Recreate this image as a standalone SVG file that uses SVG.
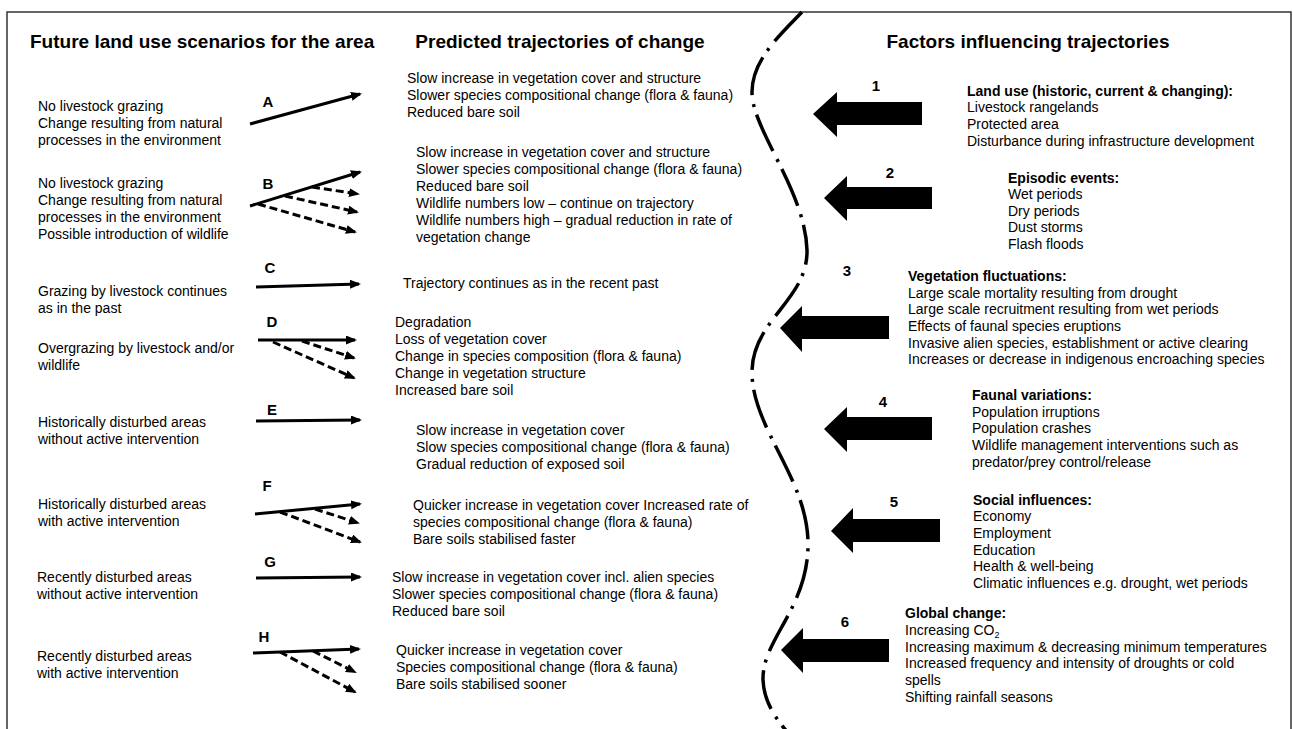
<svg xmlns="http://www.w3.org/2000/svg" width="1293" height="729" viewBox="0 0 1293 729">
<style>
text { font-family: "Liberation Sans", Arial, sans-serif; font-size: 14px; fill: #000; }
.b { font-weight: bold; }
.h { font-size: 19px; font-weight: bold; }
.lbl { font-size: 15px; font-weight: bold; text-anchor: middle; }
.sol { stroke: #000; stroke-width: 3; fill: none; marker-end: url(#ah); }
.dsh { stroke: #000; stroke-width: 3; fill: none; stroke-dasharray: 8 4; marker-end: url(#ah); }
.big { fill: #000; }
.curve { stroke: #000; stroke-width: 3.5; fill: none; stroke-dasharray: 40 9 3 8; }
.frame { stroke: #333; stroke-width: 1.5; fill: none; }
</style>
<defs>
<marker id="ah" markerUnits="userSpaceOnUse" markerWidth="12" markerHeight="10" refX="9" refY="4.5" orient="auto">
<path d="M0,0 L11,4.5 L0,9 Z" fill="#000"/>
</marker>
</defs>
<rect width="1293" height="729" fill="#fff"/>
<path class="frame" d="M7,735 V12 H1291 V735"/>

<g id="titles">
<text class="h" x="30" y="48">Future land use scenarios for the area</text>
<text class="h" x="560" y="48" text-anchor="middle">Predicted trajectories of change</text>
<text class="h" x="1028" y="48" text-anchor="middle">Factors influencing trajectories</text>
</g>

<g id="divider">
<path class="curve" d="M802,12 C780,35 752,60 752,92 C752,130 805,190 807,250 C808,300 752,320 752,372 C752,430 810,480 808,548 C806,610 762,640 763,680 C764,705 780,725 795,740"/>
</g>

<g id="connectors">
<line class="sol" x1="250" y1="124" x2="360" y2="94"/>
<line class="sol" x1="250" y1="206" x2="360" y2="172"/>
<line class="dsh" x1="312" y1="187" x2="358" y2="194"/>
<line class="dsh" x1="285" y1="196" x2="357" y2="212"/>
<line class="dsh" x1="258" y1="204" x2="355" y2="232"/>
<line class="sol" x1="256" y1="287" x2="359" y2="284"/>
<line class="sol" x1="258" y1="340" x2="355" y2="340"/>
<line class="dsh" x1="302" y1="341" x2="354" y2="358"/>
<line class="dsh" x1="273" y1="342" x2="354" y2="378"/>
<line class="sol" x1="256" y1="421" x2="360" y2="420"/>
<line class="sol" x1="255" y1="514" x2="360" y2="504"/>
<line class="dsh" x1="315" y1="509" x2="358" y2="523"/>
<line class="dsh" x1="280" y1="512" x2="360" y2="542"/>
<line class="sol" x1="256" y1="578" x2="360" y2="577"/>
<line class="sol" x1="253" y1="653" x2="359" y2="649"/>
<line class="dsh" x1="313" y1="651" x2="355" y2="672"/>
<line class="dsh" x1="280" y1="652" x2="355" y2="692"/>

<polygon class="big" points="813,114 837,92 837,102 922,102 922,125 837,125 837,137"/>
<polygon class="big" points="824,198 847,176 847,187 932,187 932,209 847,209 847,221"/>
<polygon class="big" points="780,328 802,306 802,316 889,316 889,339 802,339 802,352"/>
<polygon class="big" points="824,429 847,407 847,417 932,417 932,440 847,440 847,452"/>
<polygon class="big" points="831,531 853,508 853,519 940,519 940,542 853,542 853,553"/>
<polygon class="big" points="781,650 803,628 803,639 889,639 889,662 803,662 803,673"/>
</g>

<g id="scenario-A">
<text class="lbl" x="268" y="107">A</text>
<text x="38" y="111">No livestock grazing</text>
<text x="38" y="128">Change resulting from natural</text>
<text x="38" y="145">processes in the environment</text>
</g>
<g id="scenario-B">
<text class="lbl" x="268" y="189">B</text>
<text x="38" y="188">No livestock grazing</text>
<text x="38" y="205">Change resulting from natural</text>
<text x="38" y="222">processes in the environment</text>
<text x="38" y="239">Possible introduction of wildlife</text>
</g>
<g id="scenario-C">
<text class="lbl" x="270" y="273">C</text>
<text x="38" y="296">Grazing by livestock continues</text>
<text x="38" y="313">as in the past</text>
</g>
<g id="scenario-D">
<text class="lbl" x="272" y="327">D</text>
<text x="38" y="353">Overgrazing by livestock and/or</text>
<text x="38" y="370">wildlife</text>
</g>
<g id="scenario-E">
<text class="lbl" x="272" y="415">E</text>
<text x="38" y="427">Historically disturbed areas</text>
<text x="38" y="444">without active intervention</text>
</g>
<g id="scenario-F">
<text class="lbl" x="267" y="491">F</text>
<text x="38" y="509">Historically disturbed areas</text>
<text x="38" y="526">with active intervention</text>
</g>
<g id="scenario-G">
<text class="lbl" x="270" y="567">G</text>
<text x="37" y="582">Recently disturbed areas</text>
<text x="37" y="599">without active intervention</text>
</g>
<g id="scenario-H">
<text class="lbl" x="264" y="642">H</text>
<text x="37" y="661">Recently disturbed areas</text>
<text x="37" y="678">with active intervention</text>
</g>

<g id="trajectory-A">
<text x="407" y="83">Slow increase in vegetation cover and structure</text>
<text x="407" y="100">Slower species compositional change (flora &amp; fauna)</text>
<text x="407" y="117">Reduced bare soil</text>
</g>
<g id="trajectory-B">
<text x="416" y="157">Slow increase in vegetation cover and structure</text>
<text x="416" y="174">Slower species compositional change (flora &amp; fauna)</text>
<text x="416" y="191">Reduced bare soil</text>
<text x="416" y="208">Wildlife numbers low – continue on trajectory</text>
<text x="416" y="225">Wildlife numbers high – gradual reduction in rate of</text>
<text x="416" y="242">vegetation change</text>
</g>
<g id="trajectory-C">
<text x="403" y="288">Trajectory continues as in the recent past</text>
</g>
<g id="trajectory-D">
<text x="395" y="327">Degradation</text>
<text x="395" y="344">Loss of vegetation cover</text>
<text x="395" y="361">Change in species composition (flora &amp; fauna)</text>
<text x="395" y="378">Change in vegetation structure</text>
<text x="395" y="395">Increased bare soil</text>
</g>
<g id="trajectory-E">
<text x="416" y="435">Slow increase in vegetation cover</text>
<text x="416" y="452">Slow species compositional change (flora &amp; fauna)</text>
<text x="416" y="469">Gradual reduction of exposed soil</text>
</g>
<g id="trajectory-F">
<text x="413" y="510">Quicker increase in vegetation cover Increased rate of</text>
<text x="413" y="527">species compositional change (flora &amp; fauna)</text>
<text x="413" y="544">Bare soils stabilised faster</text>
</g>
<g id="trajectory-G">
<text x="392" y="582">Slow increase in vegetation cover incl. alien species</text>
<text x="392" y="599">Slower species compositional change (flora &amp; fauna)</text>
<text x="392" y="616">Reduced bare soil</text>
</g>
<g id="trajectory-H">
<text x="396" y="655">Quicker increase in vegetation cover</text>
<text x="396" y="672">Species compositional change (flora &amp; fauna)</text>
<text x="396" y="689">Bare soils stabilised sooner</text>
</g>

<g id="factor-1">
<text class="lbl" x="876" y="91">1</text>
<text class="b" x="967" y="96">Land use (historic, current &amp; changing):</text>
<text x="967" y="112">Livestock rangelands</text>
<text x="967" y="129">Protected area</text>
<text x="967" y="146">Disturbance during infrastructure development</text>
</g>
<g id="factor-2">
<text class="lbl" x="890" y="178">2</text>
<text class="b" x="1008" y="183">Episodic events:</text>
<text x="1008" y="199">Wet periods</text>
<text x="1008" y="216">Dry periods</text>
<text x="1008" y="232">Dust storms</text>
<text x="1008" y="249">Flash floods</text>
</g>
<g id="factor-3">
<text class="lbl" x="847" y="276">3</text>
<text class="b" x="908" y="281">Vegetation fluctuations:</text>
<text x="908" y="298">Large scale mortality resulting from drought</text>
<text x="908" y="314">Large scale recruitment resulting from wet periods</text>
<text x="908" y="331">Effects of faunal species eruptions</text>
<text x="908" y="348">Invasive alien species, establishment or active clearing</text>
<text x="908" y="364">Increases or decrease in indigenous encroaching species</text>
</g>
<g id="factor-4">
<text class="lbl" x="883" y="407">4</text>
<text class="b" x="972" y="400">Faunal variations:</text>
<text x="972" y="417">Population irruptions</text>
<text x="972" y="433">Population crashes</text>
<text x="972" y="450">Wildlife management interventions such as</text>
<text x="972" y="467">predator/prey control/release</text>
</g>
<g id="factor-5">
<text class="lbl" x="894" y="507">5</text>
<text class="b" x="973" y="505">Social influences:</text>
<text x="973" y="521">Economy</text>
<text x="973" y="538">Employment</text>
<text x="973" y="555">Education</text>
<text x="973" y="571">Health &amp; well-being</text>
<text x="973" y="588">Climatic influences e.g. drought, wet periods</text>
</g>
<g id="factor-6">
<text class="lbl" x="845" y="627">6</text>
<text class="b" x="905" y="618">Global change:</text>
<text x="905" y="635">Increasing CO<tspan font-size="9" dy="3">2</tspan></text>
<text x="905" y="652">Increasing maximum &amp; decreasing minimum temperatures</text>
<text x="905" y="668">Increased frequency and intensity of droughts or cold</text>
<text x="905" y="685">spells</text>
<text x="905" y="702">Shifting rainfall seasons</text>
</g>
</svg>
